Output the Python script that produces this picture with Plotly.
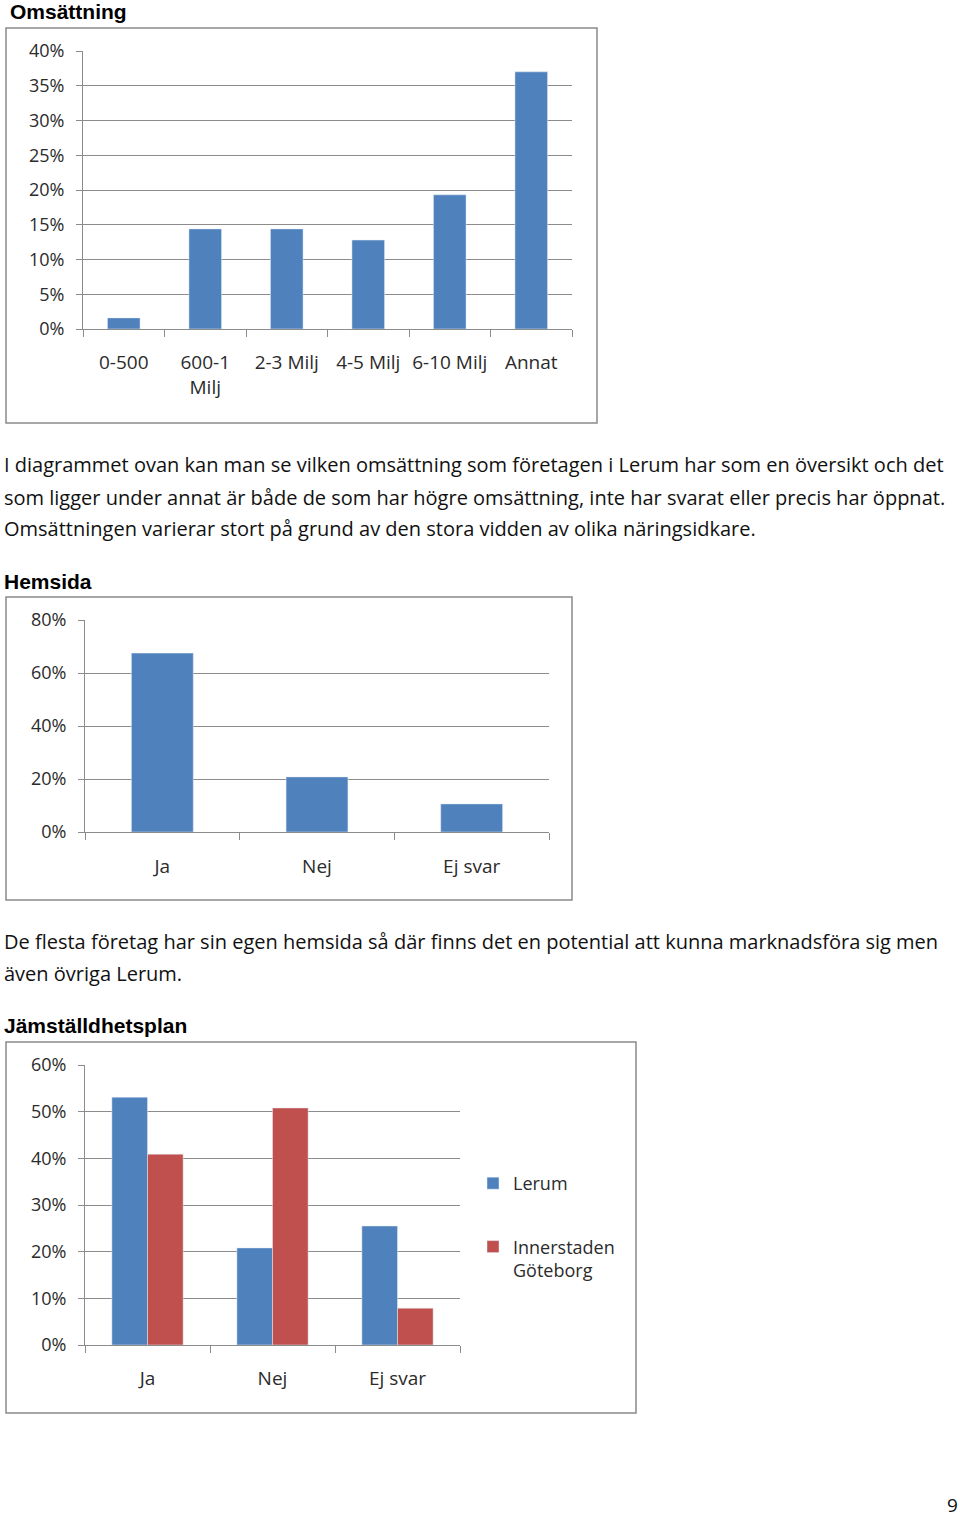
import plotly.graph_objects as go

# Omsättning
oms_cats = ["0-500", "600-1<br>Milj", "2-3 Milj", "4-5 Milj", "6-10 Milj", "Annat"]
oms_vals = [0.016, 0.144, 0.144, 0.128, 0.193, 0.370]

# Hemsida
hem_cats = ["Ja", "Nej", "Ej svar"]
hem_vals = [0.675, 0.208, 0.106]

# Jämställdhetsplan
jam_cats = ["Ja", "Nej", "Ej svar"]
jam_lerum = [0.531, 0.208, 0.255]
jam_inner = [0.409, 0.508, 0.079]

W, H = 960, 1519
BLUE = "#4F81BD"
RED = "#C0504D"
GRID = "#8c8c8c"
BODY_FONT = "Open Sans"
TXT = "#111111"


def px_x(x):
    return x / W


def px_y(y):
    return 1 - y / H


fig = go.Figure()

fig.add_trace(go.Bar(x=oms_cats, y=oms_vals, marker_color=BLUE, width=0.4,
                     xaxis="x", yaxis="y", showlegend=False))
fig.add_trace(go.Bar(x=hem_cats, y=hem_vals, marker_color=BLUE, width=0.4,
                     xaxis="x2", yaxis="y2", showlegend=False))
fig.add_trace(go.Bar(x=jam_cats, y=jam_lerum, marker_color=BLUE, width=0.285, offset=-0.285,
                     xaxis="x3", yaxis="y3", name="Lerum", legendgroup="a"))
fig.add_trace(go.Bar(x=jam_cats, y=jam_inner, marker_color=RED, width=0.285, offset=0,
                     xaxis="x3", yaxis="y3", name="Innerstaden<br>Göteborg", legendgroup="b"))

ytick_font = dict(family=BODY_FONT, size=18, color="#2b2b2b")
xtick_font = dict(family=BODY_FONT, size=19, color="#2b2b2b")


def xax(x0, x1, anchor, standoff=16):
    return dict(domain=[px_x(x0), px_x(x1)], anchor=anchor, type="category",
                showline=True, linecolor=GRID, linewidth=1, showgrid=False,
                ticks="outside", tickson="boundaries", ticklen=7, tickcolor=GRID,
                tickfont=xtick_font, tickangle=0, ticklabelstandoff=standoff,
                automargin=False, fixedrange=True)


def yax(y_top, y_bot, anchor, top, step):
    return dict(domain=[px_y(y_bot), px_y(y_top)], anchor=anchor, range=[0, top],
                tickformat=".0%", dtick=step, showline=True, linecolor=GRID, linewidth=1,
                showgrid=True, gridcolor=GRID, gridwidth=1, zeroline=False,
                ticks="outside", ticklen=6, tickcolor=GRID, tickfont=ytick_font,
                ticklabelstandoff=8, automargin=False, fixedrange=True)


fig.update_layout(
    width=W, height=H, autosize=False,
    margin=dict(l=0, r=0, t=0, b=0, autoexpand=False),
    paper_bgcolor="white", plot_bgcolor="white",
    bargap=0.6,
    xaxis=xax(83, 572, "y"),
    yaxis=yax(51, 329, "x", 0.40, 0.05),
    xaxis2=xax(85, 549, "y2", 17),
    yaxis2=yax(620, 832, "x2", 0.80, 0.20),
    xaxis3=xax(85, 460, "y3"),
    yaxis3=yax(1065, 1345, "x3", 0.60, 0.10),
    legend=dict(x=px_x(473), y=px_y(1165), xanchor="left", yanchor="top",
                font=dict(family=BODY_FONT, size=18, color="#2b2b2b"),
                tracegroupgap=37, itemwidth=30, valign="top", bgcolor="rgba(0,0,0,0)"),
)

# chart frames
for x0, y0, x1, y1 in [(6, 28, 597, 423), (6, 597, 572, 900), (6, 1042, 636, 1413)]:
    fig.add_shape(type="rect", xref="paper", yref="paper",
                  x0=px_x(x0), x1=px_x(x1), y0=px_y(y1), y1=px_y(y0),
                  line=dict(color="#8a8a8a", width=1.5), fillcolor="rgba(0,0,0,0)")

# headings
for txt, x, y in [("Omsättning", 8, 12), ("Hemsida", 2, 581), ("Jämställdhetsplan", 2, 1025)]:
    fig.add_annotation(text="<b>%s</b>" % txt, xref="paper", yref="paper",
                       x=px_x(x), y=px_y(y), xanchor="left", yanchor="middle", showarrow=False,
                       font=dict(family="Liberation Sans", size=21, color="black"))

body_lines = [
    ("I diagrammet ovan kan man se vilken omsättning som företagen i Lerum har som en översikt och det", 464),
    ("som ligger under annat är både de som har högre omsättning, inte har svarat eller precis har öppnat.", 497),
    ("Omsättningen varierar stort på grund av den stora vidden av olika näringsidkare.", 529),
    ("De flesta företag har sin egen hemsida så där finns det en potential att kunna marknadsföra sig men", 941),
    ("även övriga Lerum.", 973),
]
for txt, y in body_lines:
    fig.add_annotation(text=txt, xref="paper", yref="paper", x=px_x(2), y=px_y(y),
                       xanchor="left", yanchor="middle", showarrow=False,
                       font=dict(family=BODY_FONT, size=20, color=TXT))

fig.add_annotation(text="9", xref="paper", yref="paper", x=px_x(952), y=px_y(1505),
                   xanchor="center", yanchor="middle", showarrow=False,
                   font=dict(family=BODY_FONT, size=19, color=TXT))

# pin the figure to the page corner (no default body margin)
pin = ("document.body.style.margin='0';document.body.style.overflow='hidden';"
       "var gd=document.getElementById('{plot_id}');"
       "gd.style.position='absolute';gd.style.left='0';gd.style.top='0';")

fig.write_html("out.html", post_script=pin, config={"displayModeBar": False})
